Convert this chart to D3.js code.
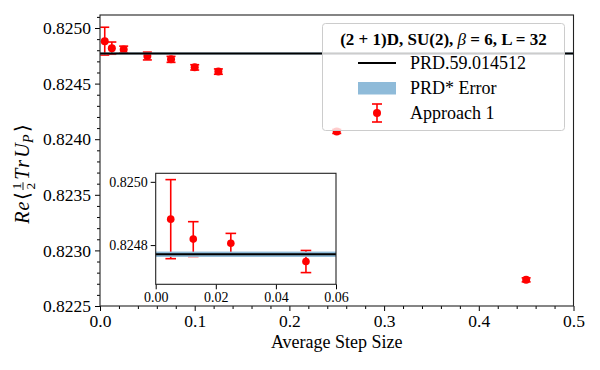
<!DOCTYPE html>
<html>
<head>
<meta charset="utf-8">
<style>
    body { margin: 0; background: #fff; }
    svg, .axis { font-family: 'Liberation Serif', 'Times New Roman', serif; }
    .axis .domain { display: none; }
    .axis .tick line { stroke: #000; stroke-width: 1px; }
    .axis .tick text { fill: #000; }
</style>
</head>
<body>
<svg width="600" height="370"></svg>

<script src="https://d3js.org/d3.v7.min.js"></script>
<script>
    // data
    const stepSize  = [0.005, 0.0125, 0.025, 0.05, 0.075, 0.1, 0.125, 0.25, 0.45];
    const plaquette = [0.824882, 0.824819, 0.824806, 0.824748, 0.824718, 0.824646, 0.824608, 0.824070, 0.822735];
    const plaqError = [0.000125, 0.000055, 0.000031, 0.000035, 0.000027, 0.000024, 0.000024, 0.000018, 0.000018];
    const refValue = 0.824771;
    const refError = 0.0000085;

    const mainXTicks = [0, 0.1, 0.2, 0.3, 0.4, 0.5];
    const mainYTicks = [0.8225, 0.8230, 0.8235, 0.8240, 0.8245, 0.8250];
    const insetXTicks = [0, 0.02, 0.04, 0.06];
    const insetYTicks = [0.8248, 0.8250];

    const legendTitle = ["(2 + 1)D, SU(2), ", "β", " = 6, L = 32"];
    const legendLabels = ["PRD.59.014512", "PRD* Error", "Approach 1"];

    const red = "#ff0000";
    const bandColor = "#8fbbd9";
    const serif = "'Liberation Serif', 'Times New Roman', serif";

    let svg = d3.select("svg");

    // main axes box
    let m = { left: 100, right: 573.5, top: 15, bottom: 306 };

    let x = d3.scaleLinear().domain([0, 0.5]).range([m.left, m.right]);
    let y = d3.scaleLinear().domain([0.8225, 0.825117]).range([m.bottom, m.top]);

    let points = stepSize.map((s, i) => ({ s: s, v: plaquette[i], e: plaqError[i] }));

    function drawErrorbars(g, data, xs, ys, r, cap) {
        let pts = g.append("g").selectAll("g").data(data).join("g");
        pts.append("line")
            .attr("x1", d => xs(d.s)).attr("x2", d => xs(d.s))
            .attr("y1", d => ys(d.v - d.e)).attr("y2", d => ys(d.v + d.e))
            .style("stroke", red).style("stroke-width", "1.6px");
        [-1, 1].forEach(sgn => {
            pts.append("line")
                .attr("x1", d => xs(d.s) - cap).attr("x2", d => xs(d.s) + cap)
                .attr("y1", d => ys(d.v + sgn * d.e)).attr("y2", d => ys(d.v + sgn * d.e))
                .style("stroke", red).style("stroke-width", "1.6px");
        });
        pts.append("circle")
            .attr("cx", d => xs(d.s)).attr("cy", d => ys(d.v))
            .attr("r", r).style("fill", red);
    }

    // main plot
    drawErrorbars(svg, points, x, y, 4, 4.5);

    svg.append("rect")
        .attr("x", m.left).attr("width", m.right - m.left)
        .attr("y", y(refValue + refError))
        .attr("height", Math.max(0.5, y(refValue - refError) - y(refValue + refError)))
        .style("fill", bandColor);

    svg.append("line")
        .attr("x1", m.left).attr("x2", m.right)
        .attr("y1", y(refValue)).attr("y2", y(refValue))
        .style("stroke", "#000").style("stroke-width", "2px");

    // ticks
    let minorY = d3.range(0.8225, 0.82512, 0.0001).filter(v => Math.abs(Math.round(v / 0.0005) * 0.0005 - v) > 1e-7);
    let minorX = d3.range(0, 0.5001, 0.02).filter(v => Math.abs(Math.round(v / 0.1) * 0.1 - v) > 1e-7);

    svg.append("g").attr("class", "axis")
        .attr("transform", `translate(${m.left},0)`)
        .call(d3.axisLeft(y).tickValues(minorY).tickSize(3).tickFormat(""));
    svg.append("g").attr("class", "axis")
        .attr("transform", `translate(${m.left},0)`)
        .call(d3.axisLeft(y).tickValues(mainYTicks).tickSize(5).tickPadding(4).tickFormat(d3.format(".4f")))
        .selectAll("text").style("font-size", "17.5px").style("font-family", serif);

    svg.append("g").attr("class", "axis")
        .attr("transform", `translate(0,${m.bottom})`)
        .call(d3.axisBottom(x).tickValues(minorX).tickSize(3).tickFormat(""));
    svg.append("g").attr("class", "axis")
        .attr("transform", `translate(0,${m.bottom})`)
        .call(d3.axisBottom(x).tickValues(mainXTicks).tickSize(5).tickPadding(4).tickFormat(d3.format(".1f")))
        .selectAll("text").style("font-size", "17.5px").style("font-family", serif);

    svg.append("rect")
        .attr("x", m.left).attr("y", m.top)
        .attr("width", m.right - m.left).attr("height", m.bottom - m.top)
        .style("fill", "none").style("stroke", "#222").style("stroke-width", "1.1px");

    // x label
    svg.append("text")
        .attr("x", (m.left + m.right) / 2).attr("y", 348)
        .style("text-anchor", "middle").style("font-size", "18px")
        .text("Average Step Size");

    // y label, built piece by piece then centred
    let yl = svg.append("g").attr("transform", "translate(29,174) rotate(-90)");
    let cursor = 0;
    function piece(txt, opts) {
        let t = yl.append("text")
            .attr("x", cursor).attr("y", opts.dy || 0)
            .style("font-size", (opts.size || 20) + "px")
            .style("font-style", opts.italic ? "italic" : "normal")
            .text(txt);
        let w = t.node().getComputedTextLength();
        if (!opts.stay) cursor += w + (opts.gap || 0);
        return { t: t, w: w };
    }
    piece("R", { italic: true, gap: 1 });
    piece("e", { italic: true, gap: 2 });
    piece("\u27E8", { gap: 2 });
    let fracX = cursor;
    let one = piece("1", { size: 13.5, dy: -8, stay: true });
    let two = piece("2", { size: 13.5, dy: 6, stay: true });
    yl.append("line")
        .attr("x1", fracX - 0.5).attr("x2", fracX + one.w + 0.5)
        .attr("y1", -6).attr("y2", -6)
        .style("stroke", "#000").style("stroke-width", "0.9px");
    cursor += one.w + 3;
    piece("T", { italic: true, gap: 1 });
    piece("r", { italic: true, gap: 2 });
    piece("U", { italic: true, gap: 0.5 });
    piece("P", { italic: true, size: 14, dy: 4, gap: 2 });
    piece("\u27E9", {});
    yl.selectAll("*").attr("transform", `translate(${-cursor / 2},0)`);

    // inset
    let ins = { left: 155.7, right: 336, top: 173.3, bottom: 284.3 };
    let xi = d3.scaleLinear().domain([0, 0.06]).range([ins.left, ins.right]);
    let yi = d3.scaleLinear().domain([0.824676, 0.825027]).range([ins.bottom, ins.top]);

    let inset = svg.append("g");
    inset.append("rect")
        .attr("x", ins.left).attr("y", ins.top)
        .attr("width", ins.right - ins.left).attr("height", ins.bottom - ins.top)
        .style("fill", "#fff");

    drawErrorbars(inset, points.filter(d => d.s <= 0.06), xi, yi, 3.8, 5.3);

    inset.append("rect")
        .attr("x", ins.left).attr("width", ins.right - ins.left)
        .attr("y", yi(refValue + refError))
        .attr("height", yi(refValue - refError) - yi(refValue + refError))
        .style("fill", bandColor);
    inset.append("line")
        .attr("x1", ins.left).attr("x2", ins.right)
        .attr("y1", yi(refValue)).attr("y2", yi(refValue))
        .style("stroke", "#000").style("stroke-width", "2px");

    inset.append("g").attr("class", "axis")
        .attr("transform", `translate(${ins.left},0)`)
        .call(d3.axisLeft(yi).tickValues(insetYTicks).tickSize(5).tickPadding(3).tickFormat(d3.format(".4f")))
        .selectAll("text").style("font-size", "14px").style("font-family", serif);
    inset.append("g").attr("class", "axis")
        .attr("transform", `translate(0,${ins.bottom})`)
        .call(d3.axisBottom(xi).tickValues(insetXTicks).tickSize(5).tickPadding(3).tickFormat(d3.format(".2f")))
        .selectAll("text").style("font-size", "14px").style("font-family", serif);

    inset.append("rect")
        .attr("x", ins.left).attr("y", ins.top)
        .attr("width", ins.right - ins.left).attr("height", ins.bottom - ins.top)
        .style("fill", "none").style("stroke", "#222").style("stroke-width", "1.1px");

    // legend
    let lg = svg.append("g");
    lg.append("rect")
        .attr("x", 322.5).attr("y", 23.5).attr("width", 242).attr("height", 107).attr("rx", 3)
        .style("fill", "#fff").style("fill-opacity", 0.8)
        .style("stroke", "#cccccc").style("stroke-width", "1px");

    let title = lg.append("text")
        .attr("x", 443.5).attr("y", 45)
        .style("text-anchor", "middle").style("font-size", "17px");
    legendTitle.forEach((s, i) => {
        title.append("tspan")
            .style("font-weight", i == 1 ? "normal" : "bold")
            .style("font-style", i == 1 ? "italic" : "normal")
            .text(s);
    });

    lg.append("line")
        .attr("x1", 358).attr("x2", 396).attr("y1", 63).attr("y2", 63)
        .style("stroke", "#000").style("stroke-width", "2px");
    lg.append("rect")
        .attr("x", 358).attr("y", 82).attr("width", 38).attr("height", 12.5)
        .style("fill", bandColor);
    lg.append("line")
        .attr("x1", 377).attr("x2", 377).attr("y1", 104).attr("y2", 122)
        .style("stroke", red).style("stroke-width", "1.6px");
    [104, 122].forEach(cy => {
        lg.append("line")
            .attr("x1", 372).attr("x2", 382).attr("y1", cy).attr("y2", cy)
            .style("stroke", red).style("stroke-width", "1.6px");
    });
    lg.append("circle").attr("cx", 377).attr("cy", 113).attr("r", 4).style("fill", red);

    lg.selectAll(".lbl")
        .data(legendLabels)
        .join("text")
        .attr("class", "lbl")
        .attr("x", 410)
        .attr("y", (d, i) => 63 + i * 25)
        .attr("dy", "0.35em")
        .style("font-size", "18px")
        .text(d => d);
</script>
</body>
</html>
